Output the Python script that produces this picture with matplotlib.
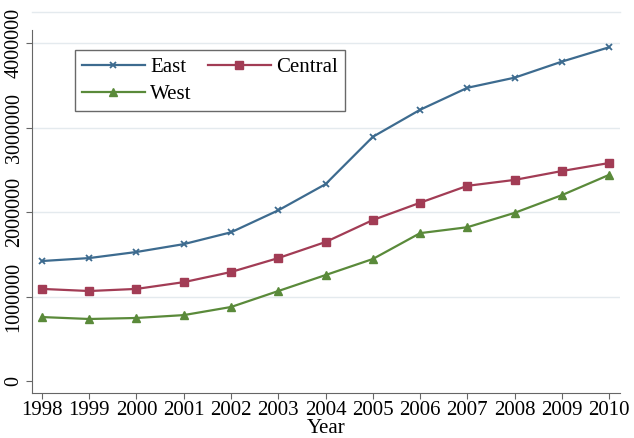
import matplotlib
matplotlib.use("Agg")
import matplotlib.pyplot as plt

years = [1998, 1999, 2000, 2001, 2002, 2003, 2004, 2005, 2006, 2007, 2008, 2009, 2010]
east = [1420000, 1455000, 1527000, 1620000, 1760000, 2020000, 2330000,
        2890000, 3210000, 3470000, 3590000, 3780000, 3950000]
central = [1090000, 1065000, 1090000, 1170000, 1290000, 1455000, 1645000,
           1905000, 2110000, 2310000, 2380000, 2485000, 2580000]
west = [757000, 734000, 746000, 780000, 876000, 1065000, 1254000,
        1444000, 1750000, 1820000, 1990000, 2200000, 2440000]
y_ticks = [0, 1000000, 2000000, 3000000, 4000000]

plt.rcParams['font.family'] = ['Liberation Serif', 'DejaVu Serif']

fig = plt.figure(figsize=(6.34, 4.38), dpi=100)
ax = fig.add_axes([0.0505, 0.1027, 0.9275, 0.8699])

l_east, = ax.plot(years, east, color='#3d6b8f', marker='x', markersize=5,
                  markeredgewidth=1.3, linewidth=1.6, label='East')
l_central, = ax.plot(years, central, color='#a23c55', marker='s', markersize=5.5,
                     linewidth=1.6, label='Central')
l_west, = ax.plot(years, west, color='#5a8a3a', marker='^', markersize=6,
                  linewidth=1.6, label='West')

ax.set_xlim(1997.79, 2010.23)
ax.set_ylim(-142000, 4367000)

ax.set_yticks(y_ticks)
ax.set_yticklabels([str(v) for v in y_ticks], rotation=90, va='center', fontsize=14.5)
ax.set_xticks(years)
ax.set_xticklabels([str(y) for y in years], fontsize=15)

for v in y_ticks[1:]:
    ax.axhline(v, color='#e4eaee', linewidth=1.0, zorder=0)

for side in ['top', 'right']:
    ax.spines[side].set_visible(False)
ax.spines['left'].set_bounds(-142000, 4150000)
ax.spines['left'].set_color('#666666')
ax.spines['bottom'].set_color('#666666')
ax.axhline(4367000, color='#e4eaee', linewidth=1.0, clip_on=False)
ax.tick_params(axis='both', color='#666666', length=4, pad=2)

ax.set_xlabel('Year', fontsize=15, labelpad=-1)

# column-wise fill: East/West in the first column, Central in the second
leg = ax.legend([l_east, l_west, l_central], ['East', 'West', 'Central'],
                ncol=2, loc='upper left', bbox_to_anchor=(0.073, 0.900),
                borderaxespad=0, fontsize=15, frameon=True, fancybox=False,
                edgecolor='#444444', handlelength=3.0, columnspacing=0.8,
                handletextpad=0.25, borderpad=0.35, labelspacing=0.35)
leg.get_frame().set_linewidth(1.0)

plt.savefig('out.png', dpi=100)
plt.close(fig)
